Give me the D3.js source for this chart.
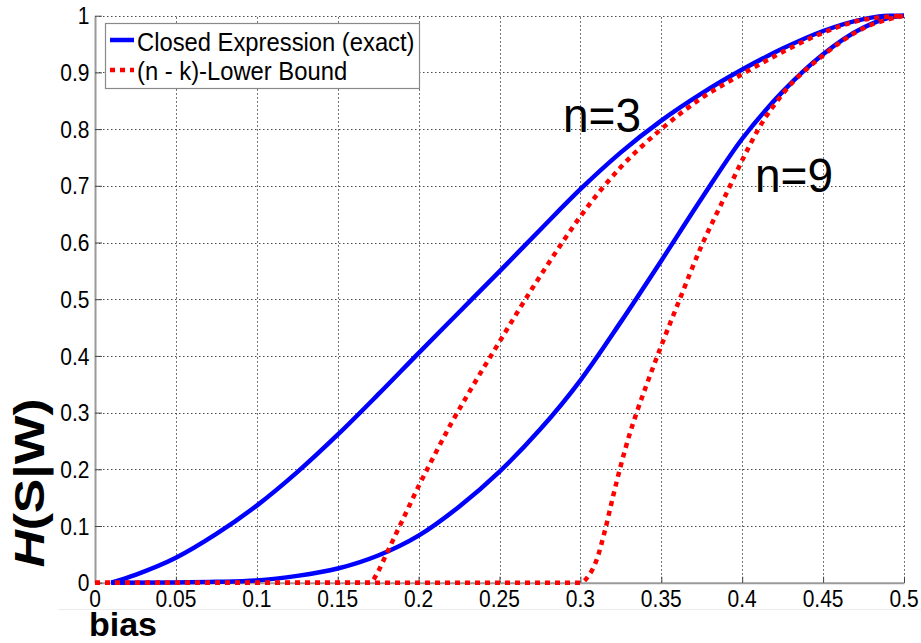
<!DOCTYPE html>
<html><head><meta charset="utf-8">
<script src="https://cdn.jsdelivr.net/npm/d3@7"></script>
<style>body{margin:0;background:#fff}svg{display:block}text{font-family:"Liberation Sans",Arial,sans-serif;fill:#000}</style>
</head><body>
<script>
const xTickValues=[0,0.05,0.1,0.15,0.2,0.25,0.3,0.35,0.4,0.45,0.5];
const xTickLabels=["0","0.05","0.1","0.15","0.2","0.25","0.3","0.35","0.4","0.45","0.5"];
const yTickValues=[0,0.1,0.2,0.3,0.4,0.5,0.6,0.7,0.8,0.9,1];
const yTickLabels=["0","0.1","0.2","0.3","0.4","0.5","0.6","0.7","0.8","0.9","1"];
const seriesNames=["Closed Expression (exact)","(n - k)-Lower Bound"];
const curveLabels=["n=3","n=9"];
const xTitle="bias";

const exactN3Bias=[0.01,0.025,0.05,0.075,0.1,0.125,0.15,0.175,0.2,0.225,0.25,0.275,0.3,0.325,0.35,0.375,0.4,0.425,0.45,0.475,0.49,0.5];
const exactN3Value=[0,0.014,0.044,0.086,0.136,0.195,0.261,0.332,0.405,0.477,0.549,0.622,0.694,0.759,0.815,0.863,0.905,0.942,0.973,0.994,1,1];
const exactN9Bias=[0.01,0.05,0.075,0.1,0.125,0.15,0.175,0.2,0.225,0.25,0.275,0.3,0.325,0.35,0.375,0.4,0.425,0.45,0.475,0.49,0.5];
const exactN9Value=[0,0.0005,0.0015,0.004,0.012,0.025,0.048,0.083,0.134,0.196,0.27,0.357,0.46,0.568,0.678,0.783,0.866,0.932,0.979,0.996,1];
const boundN3Bias=[0,0.17,0.175,0.18,0.19,0.2,0.21,0.22,0.23,0.24,0.25,0.26,0.27,0.28,0.29,0.3,0.325,0.35,0.375,0.4,0.425,0.45,0.475,0.5];
const boundN3Value=[0,0,0.02,0.05,0.11,0.17,0.226,0.28,0.33,0.378,0.425,0.472,0.518,0.562,0.605,0.646,0.733,0.8,0.855,0.897,0.936,0.97,0.993,1];
const boundN9Bias=[0,0.3,0.305,0.31,0.315,0.32,0.325,0.33,0.335,0.34,0.35,0.36,0.375,0.39,0.4,0.41,0.425,0.45,0.475,0.5];
const boundN9Value=[0,0,0.012,0.04,0.09,0.15,0.207,0.258,0.302,0.342,0.418,0.49,0.595,0.685,0.745,0.8,0.862,0.93,0.978,1];

const W=921,H=643;
const svg=d3.select("body").append("svg").attr("width",W).attr("height",H);
const x=d3.scaleLinear().domain([0,0.5]).range([95,904]);
const y=d3.scaleLinear().domain([0,1]).range([582.7,15.7]);

svg.append("line").attr("x1",58).attr("x2",921).attr("y1",609.5).attr("y2",609.5).attr("stroke","#ebebeb").attr("stroke-width",1);

// grid
const grid=svg.append("g").attr("stroke","#4a4a4a").attr("stroke-width",1).attr("stroke-dasharray","1.5,2.5");
grid.selectAll(".gx").data(xTickValues.slice(1)).join("line").attr("class","gx")
  .attr("x1",d=>Math.round(x(d))+0.5).attr("x2",d=>Math.round(x(d))+0.5).attr("y1",y(0)).attr("y2",y(1));
grid.selectAll(".gy").data(yTickValues.slice(1)).join("line").attr("class","gy")
  .attr("y1",d=>Math.round(y(d))+0.5).attr("y2",d=>Math.round(y(d))+0.5).attr("x1",x(0)).attr("x2",x(0.5));

// axes
const gx=svg.append("g").attr("transform",`translate(0,${y(0)})`)
  .call(d3.axisBottom(x).tickValues(xTickValues).tickSize(-6).tickSizeOuter(0).tickFormat(""));
gx.select(".domain").attr("stroke","#9a9a9a").attr("stroke-width",2);
gx.selectAll(".tick line").attr("stroke","#444");
const gy=svg.append("g").attr("transform",`translate(${x(0)},0)`)
  .call(d3.axisLeft(y).tickValues(yTickValues).tickSize(-7).tickSizeOuter(0).tickFormat(""));
gy.select(".domain").attr("stroke","#9a9a9a").attr("stroke-width",2);
gy.selectAll(".tick line").attr("stroke","#444");

function stext(g,tx,ty,txt,size,sy,anchor,weight){
  return g.append("text").attr("transform",`translate(${tx},${ty}) scale(1,${sy})`)
    .attr("text-anchor",anchor||"start").attr("font-size",size).attr("font-weight",weight||"normal").text(txt);
}
const labels=svg.append("g");
xTickValues.forEach((v,i)=>stext(labels,x(v),606.5,xTickLabels[i],21,1.12,"middle"));
yTickValues.forEach((v,i)=>stext(labels,89.5,y(v)+8.6,yTickLabels[i],21,1.15,"end"));

// lines
const line=d3.line().x(d=>x(d[0])).y(d=>y(d[1])).curve(d3.curveMonotoneX);
const exactSeries=[d3.zip(exactN3Bias,exactN3Value),d3.zip(exactN9Bias,exactN9Value)];
const boundSeries=[d3.zip(boundN3Bias,boundN3Value),d3.zip(boundN9Bias,boundN9Value)];
svg.append("g").selectAll("path").data(exactSeries).join("path").attr("d",line)
  .attr("fill","none").attr("stroke","#0000ff").attr("stroke-width",4.5).attr("stroke-linejoin","round");
svg.append("g").selectAll("path").data(boundSeries).join("path").attr("d",line)
  .attr("fill","none").attr("stroke","#ff0000").attr("stroke-width",4.5).attr("stroke-dasharray","5,5");

// curve labels
stext(svg,563,132,curveLabels[0],46,1.05,"start");
stext(svg,755,191.5,curveLabels[1],46,1.05,"start");

// legend
const lg=svg.append("g");
lg.append("rect").attr("x",105.5).attr("y",23.5).attr("width",314).attr("height",65).attr("fill","#fff").attr("stroke","#8a8a8a").attr("stroke-width",1.2);
lg.append("line").attr("x1",110).attr("x2",134).attr("y1",40).attr("y2",40).attr("stroke","#0000ff").attr("stroke-width",4.5);
lg.append("line").attr("x1",110).attr("x2",134).attr("y1",70).attr("y2",70).attr("stroke","#ff0000").attr("stroke-width",4.5).attr("stroke-dasharray","5,5");
stext(lg,137,50.5,seriesNames[0],23.8,1.07,"start");
stext(lg,137,79.5,seriesNames[1],23.8,1.07,"start");

// axis titles
stext(svg,89,635.5,xTitle,34,1,"start","bold");
const yt=svg.append("text").attr("transform",`translate(44,483) scale(1,1.2) rotate(-90)`).attr("text-anchor","middle")
  .attr("font-size",43).attr("font-weight","bold");
yt.append("tspan").attr("font-style","italic").text("H");
yt.append("tspan").text("(S|W)");
</script>
</body></html>
